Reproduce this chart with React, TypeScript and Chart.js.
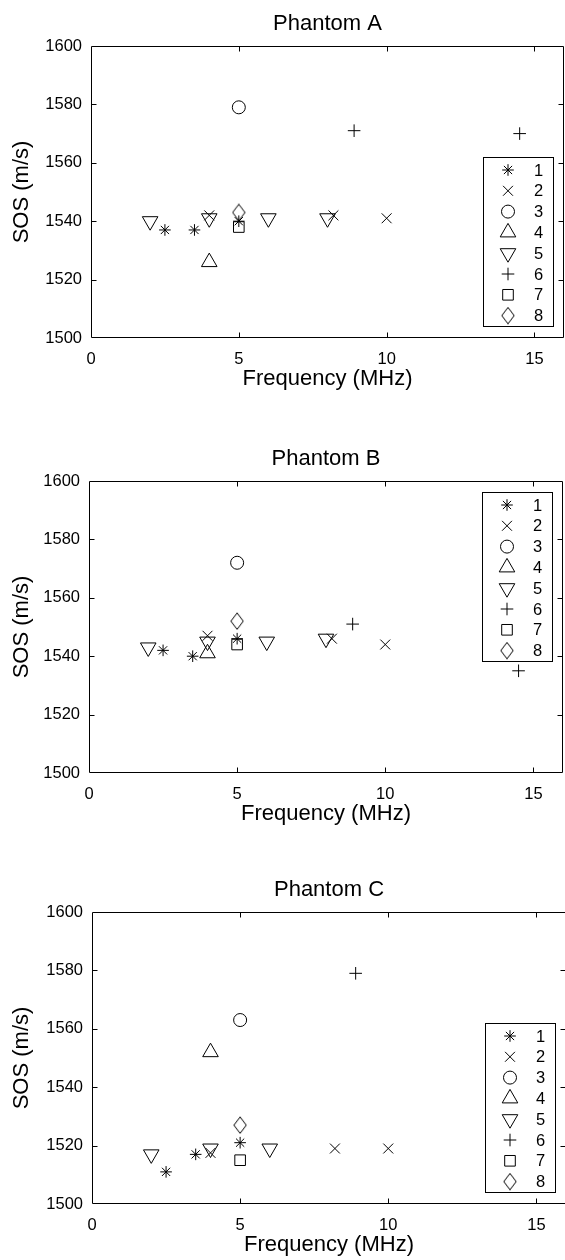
import React, { useEffect, useRef } from 'react';
import { Chart, registerables } from 'chart.js';
import * as helpers from 'chart.js/helpers';

Chart.register(...registerables);
Chart.defaults.font.family = '"Liberation Sans", Arial, Helvetica, sans-serif';
Chart.defaults.color = '#000';

// ---------- data ----------
const seriesNames = ['1', '2', '3', '4', '5', '6', '7', '8'];
const xTickValues = [0, 5, 10, 15];
const yTickValues = [1500, 1520, 1540, 1560, 1580, 1600];

// frequencies (MHz) per series
const freq1 = [2.5, 3.5, 5];
const freq2 = [4, 8.2, 10];
const freq3 = [5];
const freq4 = [4];
const freq5 = [2, 4, 6, 8];
const freq6 = [8.9, 14.5];
const freq7 = [5];
const freq8 = [5];

// Phantom A SOS (m/s)
const sosA1 = [1537, 1537, 1540];
const sosA2 = [1542, 1542, 1541];
const sosA3 = [1579];
const sosA4 = [1526];
const sosA5 = [1540, 1541, 1541, 1541];
const sosA6 = [1571, 1570];
const sosA7 = [1538];
const sosA8 = [1543];

// Phantom B SOS (m/s)
const sosB1 = [1542, 1540, 1546];
const sosB2 = [1547, 1546, 1544];
const sosB3 = [1572];
const sosB4 = [1541];
const sosB5 = [1543, 1545, 1545, 1546];
const sosB6 = [1551, 1535];
const sosB7 = [1544];
const sosB8 = [1552];

// Phantom C SOS (m/s)
const sosC1 = [1511, 1517, 1521];
const sosC2 = [1517.5, 1519, 1519];
const sosC3 = [1563];
const sosC4 = [1552];
const sosC5 = [1517, 1519, 1519];
const sosC6 = [1579];
const sosC7 = [1515];
const sosC8 = [1527];

const freqs = [freq1, freq2, freq3, freq4, freq5, freq6, freq7, freq8];
const phantomA = [sosA1, sosA2, sosA3, sosA4, sosA5, sosA6, sosA7, sosA8];
const phantomB = [sosB1, sosB2, sosB3, sosB4, sosB5, sosB6, sosB7, sosB8];
const phantomC = [sosC1, sosC2, sosC3, sosC4, sosC5, sosC6, sosC7, sosC8];

// ---------- styles ----------
function makeDiamond(): HTMLCanvasElement {
  const c = document.createElement('canvas');
  c.width = 14;
  c.height = 18;
  const g = c.getContext('2d') as CanvasRenderingContext2D;
  g.strokeStyle = '#000';
  g.lineWidth = 1;
  g.beginPath();
  g.moveTo(7, 0.8);
  g.lineTo(13.2, 9);
  g.lineTo(7, 17.2);
  g.lineTo(0.8, 9);
  g.closePath();
  g.stroke();
  return c;
}

const FONT = '"Liberation Sans", Arial, Helvetica, sans-serif';
const CANVAS_W = 580;
const CANVAS_H = 400;
const X_AXIS_H = 54;

const panels = [
  { title: 'Phantom A', values: phantomA, top: 0, left: 91, plotW: 473, corner: 'se' },
  { title: 'Phantom B', values: phantomB, top: 435, left: 89, plotW: 474, corner: 'ne' },
  { title: 'Phantom C', values: phantomC, top: 866, left: 92, plotW: 474, corner: 'se' },
];

function getMarkerStyles() {
  return [
    { pointStyle: 'star', radius: 5.8, rotation: 0 },
    { pointStyle: 'crossRot', radius: 7, rotation: 0 },
    { pointStyle: 'circle', radius: 6.5, rotation: 0 },
    { pointStyle: 'triangle', radius: 9, rotation: 0 },
    { pointStyle: 'triangle', radius: 9, rotation: 180 },
    { pointStyle: 'cross', radius: 6.3, rotation: 0 },
    { pointStyle: 'rect', radius: 7.5, rotation: 0 },
    { pointStyle: makeDiamond() as any, radius: 8, rotation: 0 },
  ];
}

function framePlugin() {
  return {
    id: 'frame',
    afterDraw(chart: any) {
      const { ctx, chartArea: a, scales } = chart;
      ctx.save();
      ctx.strokeStyle = '#000';
      ctx.lineWidth = 1;
      const L = Math.round(a.left) + 0.5;
      const R = Math.round(a.right) - 0.5;
      const T = Math.round(a.top) + 0.5;
      const B = Math.round(a.bottom) - 0.5;
      ctx.beginPath();
      ctx.rect(L, T, R - L, B - T);
      ctx.stroke();
      const tl = 5;
      ctx.beginPath();
      xTickValues.forEach((v) => {
        const px = Math.round(scales.x.getPixelForValue(v)) + 0.5;
        if (px <= L + 1 || px >= R - 1) return;
        ctx.moveTo(px, B);
        ctx.lineTo(px, B - tl);
        ctx.moveTo(px, T);
        ctx.lineTo(px, T + tl);
      });
      yTickValues.forEach((v) => {
        const py = Math.round(scales.y.getPixelForValue(v)) + 0.5;
        if (py <= T + 1 || py >= B - 1) return;
        ctx.moveTo(L, py);
        ctx.lineTo(L + tl, py);
        ctx.moveTo(R, py);
        ctx.lineTo(R - tl, py);
      });
      ctx.stroke();
      ctx.restore();
    },
  };
}

function legendPlugin(corner: string, markers: any[]) {
  return {
    id: 'boxLegend',
    afterDatasetsDraw(chart: any) {
      const { ctx, chartArea: a } = chart;
      const w = 71;
      const h = 170;
      const right = Math.round(a.right) - 10;
      const left = right - w;
      const top = corner === 'ne' ? Math.round(a.top) + 11 : Math.round(a.bottom) - 11 - h;
      ctx.save();
      ctx.fillStyle = '#fff';
      ctx.fillRect(left, top, w, h);
      ctx.strokeStyle = '#000';
      ctx.lineWidth = 1;
      ctx.strokeRect(left + 0.5, top + 0.5, w - 1, h - 1);
      seriesNames.forEach((name, i) => {
        const cy = top + 13 + i * 20.8;
        const m = markers[i];
        ctx.strokeStyle = '#000';
        ctx.fillStyle = 'rgba(0,0,0,0)';
        ctx.lineWidth = 1;
        helpers.drawPoint(ctx, { pointStyle: m.pointStyle, rotation: m.rotation, radius: m.radius, borderWidth: 1 }, left + 25, cy);
        ctx.fillStyle = '#000';
        ctx.font = '16.5px ' + FONT;
        ctx.textAlign = 'left';
        ctx.textBaseline = 'middle';
        ctx.fillText(name, left + 51, cy + 1);
      });
      ctx.restore();
    },
  };
}

function PhantomChart({ panel }: { panel: any }) {
  const ref = useRef<HTMLCanvasElement | null>(null);
  useEffect(() => {
    const markers = getMarkerStyles();
    const datasets = seriesNames.map((name, i) => ({
      label: name,
      data: panel.values[i].map((y: number, j: number) => ({ x: freqs[i][j], y })),
      showLine: false,
      pointStyle: markers[i].pointStyle,
      pointRadius: markers[i].radius,
      pointHoverRadius: markers[i].radius,
      pointRotation: markers[i].rotation,
      pointBorderWidth: 1,
      pointBorderColor: '#000',
      pointBackgroundColor: 'rgba(0,0,0,0)',
      borderColor: '#000',
      backgroundColor: 'rgba(0,0,0,0)',
    }));
    const chart = new Chart(ref.current as HTMLCanvasElement, {
      type: 'scatter',
      data: { datasets },
      options: {
        responsive: false,
        animation: false,
        devicePixelRatio: 1,
        events: [],
        layout: {
          padding: { left: 0, right: CANVAS_W - panel.left - panel.plotW, top: 0, bottom: CANVAS_H - 46 - 292 - X_AXIS_H },
        },
        plugins: {
          legend: { display: false },
          tooltip: { enabled: false },
          title: {
            display: true,
            text: panel.title,
            fullSize: false,
            color: '#000',
            font: { size: 22, weight: 'normal' },
            padding: { top: 10.5, bottom: 9.1 },
          },
        },
        scales: {
          x: {
            type: 'linear',
            min: 0,
            max: 16,
            afterBuildTicks: (s: any) => {
              s.ticks = xTickValues.map((v) => ({ value: v }));
            },
            afterFit: (s: any) => {
              s.height = X_AXIS_H;
            },
            grid: { display: false, drawTicks: false },
            border: { display: false },
            ticks: {
              color: '#000',
              font: { size: 16.5 },
              padding: 12,
              maxRotation: 0,
              autoSkip: false,
              callback: (v: any) => String(v),
            },
            title: {
              display: true,
              text: 'Frequency (MHz)',
              color: '#000',
              font: { size: 22 },
              padding: { top: 0, bottom: 0 },
            },
          },
          y: {
            type: 'linear',
            min: 1500,
            max: 1600,
            afterBuildTicks: (s: any) => {
              s.ticks = yTickValues.map((v) => ({ value: v }));
            },
            afterFit: (s: any) => {
              s.width = panel.left;
            },
            grid: { display: false, drawTicks: false },
            border: { display: false },
            ticks: {
              color: '#000',
              font: { size: 16.5 },
              padding: 9,
              autoSkip: false,
              callback: (v: any) => String(v),
            },
            title: {
              display: true,
              text: 'SOS (m/s)',
              color: '#000',
              font: { size: 22 },
              padding: { top: 8.4, bottom: 0 },
            },
          },
        },
      } as any,
      plugins: [framePlugin(), legendPlugin(panel.corner, markers)],
    });
    return () => chart.destroy();
  }, [panel]);
  return (
    <canvas
      ref={ref}
      width={CANVAS_W}
      height={CANVAS_H}
      style={{ position: 'absolute', left: 0, top: panel.top, width: CANVAS_W, height: CANVAS_H }}
    />
  );
}

export default function App() {
  return (
    <div
      style={{
        position: 'absolute',
        left: 0,
        top: 0,
        width: 565,
        height: 1260,
        overflow: 'hidden',
        background: '#fff',
      }}
    >
      {panels.map((p) => (
        <PhantomChart key={p.title} panel={p} />
      ))}
    </div>
  );
}
